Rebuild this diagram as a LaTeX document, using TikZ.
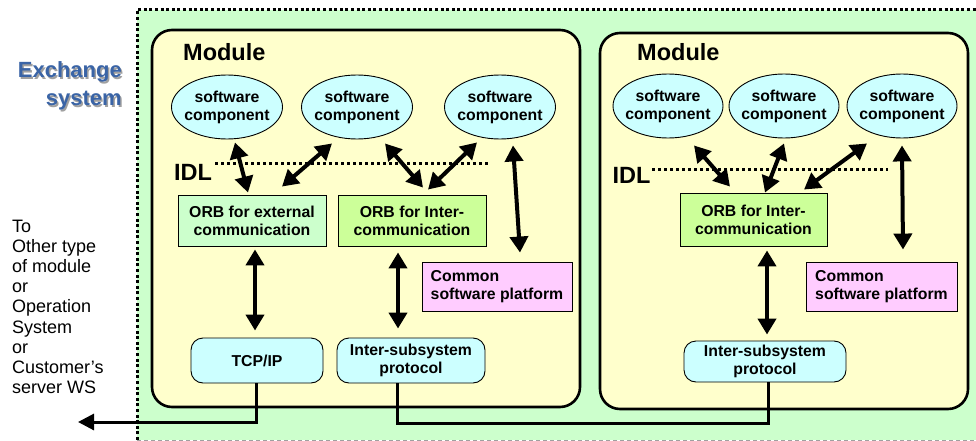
\documentclass[tikz,border=0pt]{standalone}
\usepackage{fontspec}
\setmainfont{Liberation Sans}
\usetikzlibrary{arrows.meta,calc,shapes.geometric}
\definecolor{bggreen}{HTML}{CCFFCC}
\definecolor{modfill}{HTML}{FFFFCC}
\definecolor{compfill}{HTML}{CCFFFF}
\definecolor{orbext}{HTML}{CCFFCC}
\definecolor{orbint}{HTML}{CCFF99}
\definecolor{platfill}{HTML}{FFCCFF}
\definecolor{exblue}{HTML}{3A64A6}
\definecolor{shadowgray}{HTML}{A0A0A0}
\tikzset{
  boxtext/.style={font=\bfseries\fontsize{15.8}{18}\selectfont, align=center},
  comp/.style={ellipse, draw, line width=0.9pt, fill=compfill, boxtext,
    inner xsep=-14pt, inner ysep=-4pt, minimum width=111, minimum height=64},
  orbbox/.style={rectangle, draw, line width=0.9pt, boxtext, inner sep=0pt},
  platbox/.style={rectangle, draw, line width=0.9pt, fill=platfill, boxtext,
    align=left, inner sep=0pt, minimum width=150, minimum height=49},
  protbox/.style={rectangle, rounded corners=12pt, draw, line width=0.9pt,
    fill=compfill, boxtext, inner sep=0pt},
  module/.style={draw, line width=2.6pt, fill=modfill, rounded corners=20pt},
  modlabel/.style={font=\bfseries\fontsize{23.5}{26}\selectfont, inner sep=0pt, anchor=west},
  idllabel/.style={font=\bfseries\fontsize{23.5}{26}\selectfont, inner sep=0pt},
  idlline/.style={line width=3pt, dash pattern=on 3pt off 3pt},
  tip/.tip={Triangle[length=16pt,width=18pt]},
  dbl/.style={line width=4pt, tip-tip},
  wire/.style={line width=3pt},
}
\begin{document}
\begin{tikzpicture}[x=1pt,y=-1pt]
\useasboundingbox (0,0) rectangle (976,441);

% system area
\fill[bggreen] (137,10) rectangle (976,440);
\draw[line width=3pt, dash pattern=on 3pt off 2.6pt] (137,440) -- (137,10) -- (976,10);
\draw[shadowgray, line width=0.8pt, dash pattern=on 4pt off 3pt] (137,440) -- (976,440);

% system title with shadow
\node[font=\bfseries\fontsize{22}{28}\selectfont, align=right, anchor=east, inner sep=0pt, text=shadowgray]
  (exchshadow) at (123.5,87.5) {Exchange\\system};
\node[font=\bfseries\fontsize{22}{28}\selectfont, align=right, anchor=east, inner sep=0pt, text=exblue]
  (exch) at (122,86) {Exchange\\system};

% destination note
\node[font=\fontsize{18}{20.1}\selectfont, align=left, anchor=north west, inner sep=0pt]
  (dest) at (12,220) {To\\Other type\\of module\\or\\Operation\\System\\or\\Customer's\\server WS};

% modules
\draw[module] (152,30) rectangle (580,407);
\draw[module] (600,33) rectangle (968,409);
\node[modlabel] (modL) at (183,52) {Module};
\node[modlabel] (modR) at (637,52) {Module};

% IDL boundaries
\node[idllabel] (idlL) at (193,172) {IDL};
\draw[idlline] (215,163) -- (488,163);
\node[idllabel] (idlR) at (631.5,175) {IDL};
\draw[idlline] (652,169) -- (888,169);

% left module
\node[comp] (e1) at (227,107) {software\\component};
\node[comp] (e2) at (357,107) {software\\component};
\node[comp] (e3) at (500,107) {software\\component};
\node[orbbox, fill=orbext, minimum width=148, minimum height=51] (oext) at (252,220.5) {ORB for external\\communication};
\node[orbbox, fill=orbint, minimum width=148, minimum height=51] (oint) at (412,220.5) {ORB for Inter-\\communication};
\node[platbox] (plat) at (497,286.5) {Common\\software platform};
\node[protbox, minimum width=132, minimum height=45] (tcp) at (257,360.5) {TCP/IP};
\node[protbox, minimum width=148, minimum height=45] (isp) at (411,360.5) {Inter-subsystem\\protocol};

\draw[dbl] ($(e1.south)+(8,3)$) -- ($(oext.north)+(-4,-2)$);
\draw[dbl] ($(e2.south)+(-25,4)$) -- ($(oext.north)+(30,-8)$);
\draw[dbl] ($(e2.south)+(28,4)$) -- ($(oint.north)+(11,-7)$);
\draw[dbl] ($(e3.south)+(-23,3)$) -- ($(oint.north)+(16,-5)$);
\draw[dbl] ($(e3.south)+(13,6)$) -- ($(plat.north)+(23,-9)$);
\draw[dbl] ($(oext.south)+(3,3)$) -- ($(tcp.north)+(-2,-7)$);
\draw[dbl] ($(oint.south)+(-14,6)$) -- ($(isp.north)+(-13,-9)$);

% right module
\node[comp, minimum width=110] (re1) at (668,106) {software\\component};
\node[comp, minimum width=110] (re2) at (784,106) {software\\component};
\node[comp, minimum width=110] (re3) at (902,106) {software\\component};
\node[orbbox, fill=orbint, minimum width=147, minimum height=53] (roint) at (753.5,219.5) {ORB for Inter-\\communication};
\node[platbox, minimum width=151] (rplat) at (881.5,286.5) {Common\\software platform};
\node[protbox, minimum width=162, minimum height=41] (risp) at (765,361.5) {Inter-subsystem\\protocol};

\draw[dbl] ($(re1.south)+(26,7)$) -- ($(roint.north)+(-23.5,-6)$);
\draw[dbl] ($(re2.south)+(0,5)$) -- ($(roint.north)+(11.5,0)$);
\draw[dbl] ($(re3.south)+(-35,5)$) -- ($(roint.north)+(50.5,-3)$);
\draw[dbl] ($(re3.south)+(0,7)$) -- ($(rplat.north)+(21.5,-12)$);
\draw[dbl] ($(roint.south)+(13.5,4)$) -- ($(risp.north)+(2,-6)$);

% external and inter-module links
\coordinate (out) at (78,422);
\draw[wire, -{Triangle[length=16pt,width=16pt]}] ($(tcp.south)+(-1,0)$) |- (out);
\draw[wire] ($(isp.south)+(-14,0)$) -- ++(0,40) -| ($(risp.south)+(3,0)$);
\end{tikzpicture}
\end{document}
